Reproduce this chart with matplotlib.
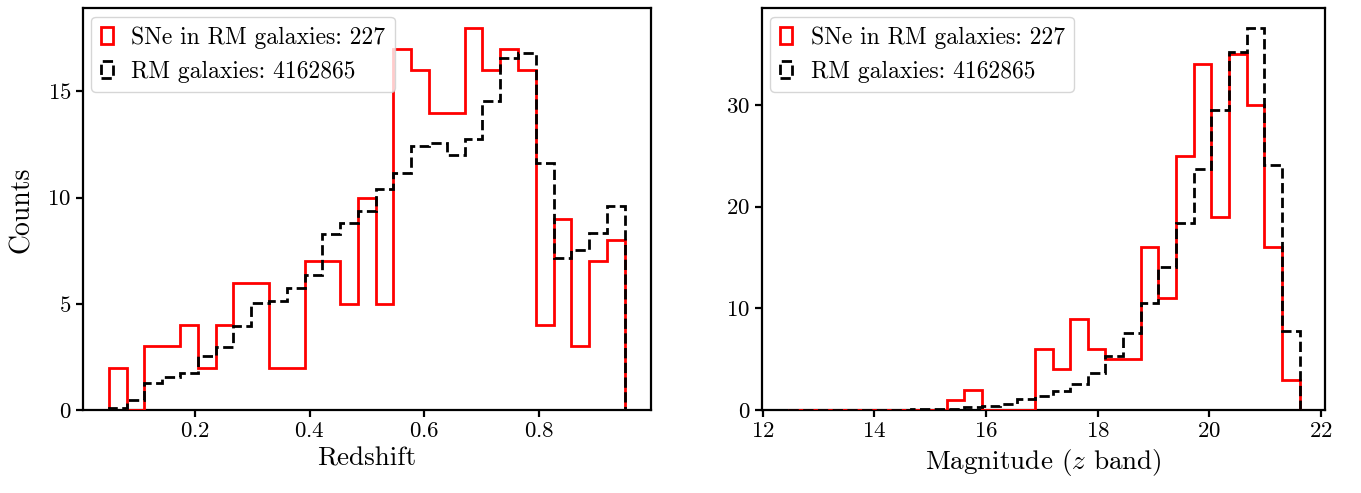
import numpy as np
import matplotlib
matplotlib.use("Agg")
import matplotlib.pyplot as plt

plt.rcParams['font.family'] = ['cmr10', 'DejaVu Serif']
plt.rcParams['mathtext.fontset'] = 'cm'
plt.rcParams['axes.formatter.use_mathtext'] = True
plt.rcParams['axes.linewidth'] = 1.6
plt.rcParams['xtick.major.width'] = 1.6
plt.rcParams['ytick.major.width'] = 1.6
plt.rcParams['xtick.major.size'] = 5
plt.rcParams['ytick.major.size'] = 5

# redshift histogram (29 bins)
z_edges = np.linspace(0.049, 0.950, 30)
z_sne = [2, 0, 3, 3, 4, 2, 4, 6, 6, 2, 2, 7, 7, 5, 10, 5, 17, 16, 14, 14,
         18, 16, 17, 16, 4, 9, 3, 7, 8]
z_gal = [0.1, 0.47, 1.3, 1.54, 1.73, 2.54, 2.98, 3.96, 5.02, 5.13, 5.73, 6.36,
         8.27, 8.79, 9.37, 10.39, 11.15, 12.45, 12.56, 12.0, 12.75, 14.55,
         16.56, 16.8, 11.65, 7.17, 7.54, 8.35, 9.6]

# magnitude histogram (29 bins)
m_edges = np.linspace(12.45, 21.62, 30)
m_sne = [0, 0, 0, 0, 0, 0, 0, 0, 0, 1, 2, 0, 0, 0, 6, 4, 9, 6, 5, 5,
         16, 11, 25, 34, 19, 35, 30, 16, 3]
m_gal = [0.01, 0.01, 0.02, 0.02, 0.03, 0.04, 0.06, 0.08, 0.1, 0.15, 0.3, 0.45,
         0.65, 1.1, 1.4, 1.9, 2.6, 3.7, 5.3, 7.6, 10.5, 14.1, 18.4, 23.7,
         29.5, 35.2, 37.6, 24.1, 7.8]

lab_sne = 'SNe in RM galaxies: 227'
lab_gal = 'RM galaxies: 4162865'

fig = plt.figure(figsize=(13.61, 4.93), dpi=100)
ax1 = fig.add_axes([0.061, 0.168, 0.417, 0.815])
ax2 = fig.add_axes([0.560, 0.168, 0.4137, 0.815])

for ax, edges, sne, gal in [(ax1, z_edges, z_sne, z_gal), (ax2, m_edges, m_sne, m_gal)]:
    centers = 0.5 * (edges[:-1] + edges[1:])
    ax.hist(centers, bins=edges, weights=sne, histtype='step', color='red',
            lw=2, label=lab_sne, zorder=3)
    ax.hist(centers, bins=edges, weights=gal, histtype='step', color='black',
            lw=2, ls='--', label=lab_gal, zorder=3)
    ax.tick_params(labelsize=16.5)
    ax.legend(loc='upper left', fontsize=17, handlelength=0.5,
              handleheight=0.7, borderaxespad=0.35)

ax1.set_xticks([0.2, 0.4, 0.6, 0.8])
ax1.set_yticks([0, 5, 10, 15])
ax1.set_xlabel('Redshift', fontsize=19.5)
ax1.set_ylabel('Counts', fontsize=20, labelpad=9)

ax2.set_xticks([12, 14, 16, 18, 20, 22])
ax2.set_yticks([0, 10, 20, 30])
ax2.set_xlabel('Magnitude ($z$ band)', fontsize=19.5)

fig.savefig('out.png', dpi=100)
